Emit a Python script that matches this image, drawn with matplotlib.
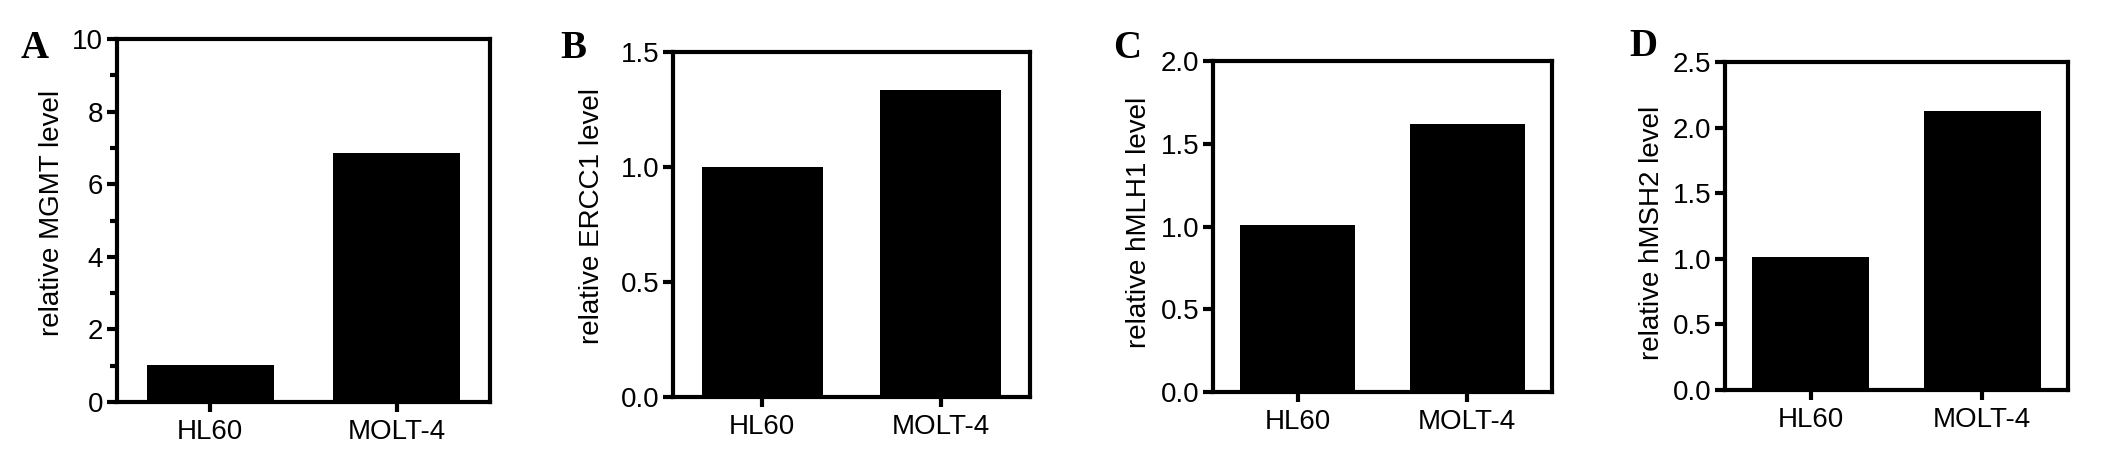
import matplotlib
matplotlib.use("Agg")
import matplotlib.pyplot as plt
from matplotlib.ticker import MultipleLocator

# cell lines on the x axis
cell_lines = ["HL60", "MOLT-4"]

# relative expression levels
mgmt = [1.02, 6.86]
ercc1 = [1.0, 1.335]
hmlh1 = [1.01, 1.62]
hmsh2 = [1.01, 2.13]

panels = ["A", "B", "C", "D"]
ylabels = ["relative MGMT level", "relative ERCC1 level",
           "relative hMLH1 level", "relative hMSH2 level"]
ymaxes = [10, 1.5, 2.0, 2.5]
ysteps = [2, 0.5, 0.5, 0.5]
fmts = ["{:.0f}", "{:.1f}", "{:.1f}", "{:.1f}"]

plt.rcParams["font.family"] = ["Liberation Sans", "DejaVu Sans"]

fig = plt.figure(figsize=(21.26, 4.49), dpi=100)

# axes boxes [left, bottom, width, height] in figure fraction
boxes = [
    [0.0550, 0.1047, 0.1755, 0.8084],
    [0.3166, 0.1158, 0.1679, 0.7684],
    [0.5706, 0.1269, 0.1594, 0.7372],
    [0.8114, 0.1314, 0.1613, 0.7305],
]
label_coords = [(-0.14, 0.52), (-0.19, 0.525), (-0.18, 0.514), (-0.175, 0.48)]
letter_pos = [(35, 48), (573, 48), (1127, 48), (1643, 47)]

for i, vals in enumerate([mgmt, ercc1, hmlh1, hmsh2]):
    ax = fig.add_axes(boxes[i])
    x = range(len(cell_lines))
    ax.bar(x, vals, width=0.68, color="black")
    ax.set_xlim(-0.5, 1.5)
    ax.set_ylim(0, ymaxes[i])
    ax.yaxis.set_major_locator(MultipleLocator(ysteps[i]))
    ax.set_yticks(ax.get_yticks())
    ax.set_yticklabels([fmts[i].format(t) for t in ax.get_yticks()])
    ax.set_ylim(0, ymaxes[i])
    if i == 0:
        ax.yaxis.set_minor_locator(MultipleLocator(1))
        ax.tick_params(axis="y", which="minor", length=5, width=3)
    ax.set_xticks(list(x))
    ax.set_xticklabels(cell_lines)
    for sp in ax.spines.values():
        sp.set_linewidth(3)
    ax.tick_params(axis="both", which="major", length=7, width=3,
                   labelsize=20, pad=3)
    ax.tick_params(axis="x", pad=5)
    ax.set_ylabel(ylabels[i], fontsize=20)
    ax.yaxis.set_label_coords(*label_coords[i])
    lx, ly = letter_pos[i]
    fig.text(lx / 2126, 1 - ly / 449, panels[i], fontsize=28,
             fontweight="bold", family="Liberation Serif",
             ha="center", va="center")

fig.savefig("out.png", dpi=100, facecolor="white")
